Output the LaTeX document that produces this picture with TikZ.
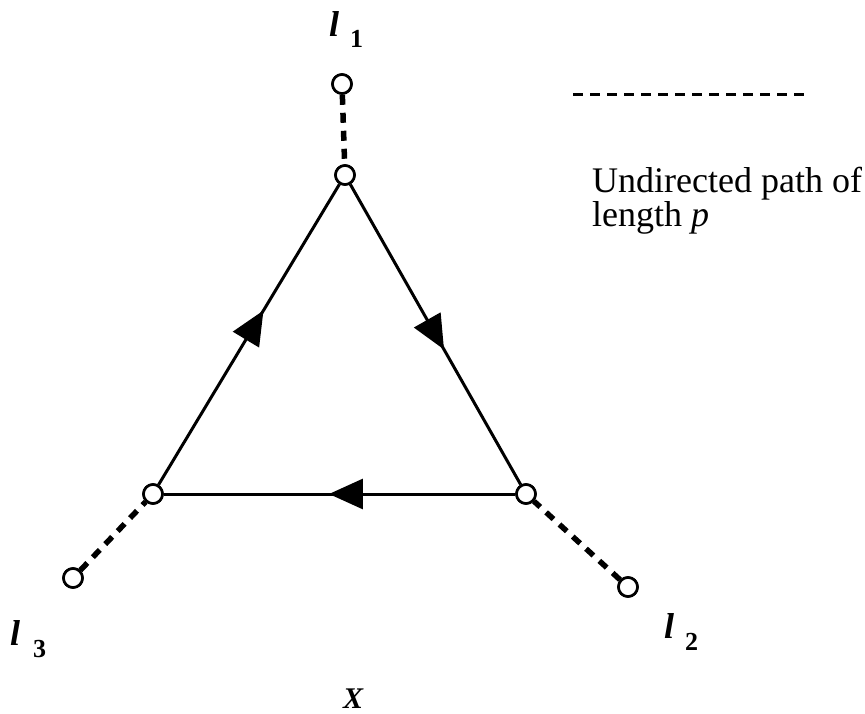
\documentclass[tikz,border=0pt]{standalone}
\usepackage{fontspec}
\setmainfont{Liberation Serif}
\usetikzlibrary{arrows.meta,decorations.markings}
\begin{document}
\begin{tikzpicture}[x=1pt,y=-1pt,
  vert/.style={circle,draw,fill=white,line width=2.6pt,minimum size=19pt,inner sep=0pt},
  edge/.style={line width=3pt},
  dedge/.style={line width=5.5pt,dash pattern=on 10pt off 8pt},
  midarrow/.style={postaction={decorate},decoration={markings,
     mark=at position #1 with {\arrow{Triangle[length=34pt,width=30pt]}}}},
  lbl/.style={font=\fontsize{36}{40}\selectfont\bfseries\itshape,inner sep=0pt,anchor=base west},
  sub/.style={font=\fontsize{26}{28}\selectfont\bfseries,inner sep=0pt,anchor=base west},
  txt/.style={font=\fontsize{36}{28}\selectfont,inner sep=0pt,anchor=north west,align=left}]
\useasboundingbox (0,0) rectangle (865,714);
\node[vert] (t) at (345,175) {};
\node[vert] (l) at (153,494) {};
\node[vert] (r) at (526,494) {};
\node[vert] (a1) at (342,84) {};
\node[vert] (a3) at (73,578) {};
\node[vert] (a2) at (628,587) {};
\draw[edge,midarrow=0.58] (l) -- (t);
\draw[edge,midarrow=0.55] (t) -- (r);
\draw[edge,midarrow=0.53] (r) -- (l);
\draw[dedge] (a1) -- (t);
\draw[dedge] (a3) -- (l);
\draw[dedge] (a2) -- (r);
\node[vert] at (t) {};
\node[vert] at (l) {};
\node[vert] at (r) {};
\node[vert] at (a1) {};
\node[vert] at (a2) {};
\node[vert] at (a3) {};
\node[lbl] (n1) at (329,37) {l};
\node[sub] (s1) at (350,48) {1};
\node[lbl] (n3) at (10,645) {l};
\node[sub] (s3) at (33,657) {3};
\node[lbl] (n2) at (664,638) {l};
\node[sub] (s2) at (685,650) {2};
\node[lbl,font=\fontsize{30}{32}\selectfont\bfseries\itshape] (x) at (343,708) {X};
\coordinate (d1) at (573,95);
\coordinate (d2) at (810,95);
\draw[line width=3pt,dash pattern=on 10pt off 7pt] (d1) -- (d2);
\node[txt] (u) at (592,167) {Undirected path of\\length \textit{p}};
\end{tikzpicture}
\end{document}
